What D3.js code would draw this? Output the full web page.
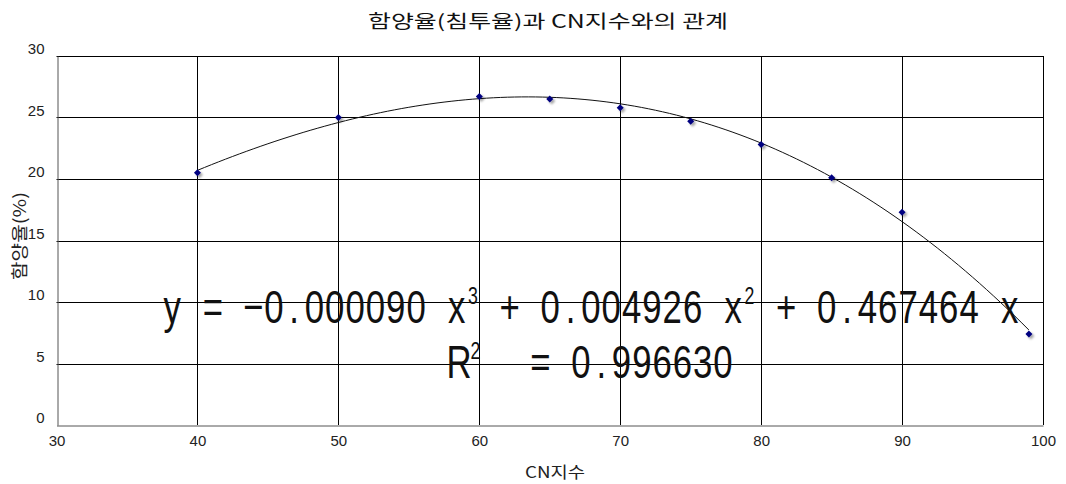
<!DOCTYPE html>
<html>
<head>
<meta charset="utf-8">
<script src="https://cdn.jsdelivr.net/npm/d3@7"></script>
<style>
  body { margin: 0; background: #fff; }
</style>
</head>
<body>
<div class="chart"></div>
<script>
// 데이터
var cnIndex = [40, 50, 60, 65, 70, 75, 80, 85, 90, 99]
var rate = [20.5, 25.0, 26.7, 26.5, 25.8, 24.7, 22.8, 20.1, 17.3, 7.4]
var xTicks = [30, 40, 50, 60, 70, 80, 90, 100]
var yTicks = [0, 5, 10, 15, 20, 25, 30]
var titleText = "함양율(침투율)과 CN지수와의 관계"
var xLabel = "CN지수"
var yLabel = "함양율(%)"
var eqParts = [["y = −0.000090 x"], ["3", "sup"], [" + 0.004926 x"], ["2", "sup"], [" + 0.467464 x"]]
var r2Parts = [["R"], ["2", "sup"], ["  = 0.996630"]]

var KR = "'Noto Sans CJK KR', sans-serif"
var NUM = "'Liberation Sans', 'DejaVu Sans', sans-serif"

var width = 1066, height = 484
var margin = {left: 56.5, right: 23, top: 56, bottom: 59}

var svg = d3.select(".chart").append("svg")
    .attr("width", width)
    .attr("height", height)

var x = d3.scaleLinear().domain([30, 100]).range([margin.left, width - margin.right])
var y = d3.scaleLinear().domain([0, 30]).range([height - margin.bottom, margin.top])

// 그림자 필터
var defs = svg.append("defs")
var f = defs.append("filter").attr("id", "shadow").attr("x", "-50%").attr("y", "-50%").attr("width", "250%").attr("height", "250%")
f.append("feDropShadow").attr("dx", 2).attr("dy", 2).attr("stdDeviation", 1.2).attr("flood-color", "#000").attr("flood-opacity", 0.35)

// 격자
var grid = svg.append("g").attr("class", "grid")
grid.selectAll("line.h").data(yTicks.slice(1)).enter().append("line")
    .attr("x1", x(30)).attr("x2", x(100))
    .attr("y1", function(d) { return Math.round(y(d)) + 0.5 })
    .attr("y2", function(d) { return Math.round(y(d)) + 0.5 })
    .attr("stroke", "#000").attr("stroke-width", 1)
grid.selectAll("line.v").data(xTicks.slice(1)).enter().append("line")
    .attr("y1", y(0)).attr("y2", y(30))
    .attr("x1", function(d) { return Math.round(x(d)) + 0.5 })
    .attr("x2", function(d) { return Math.round(x(d)) + 0.5 })
    .attr("stroke", "#000").attr("stroke-width", 1)

// 축
var xAxis = svg.append("g")
    .attr("transform", "translate(0," + (Math.round(y(0)) + 0.5) + ")")
    .call(d3.axisBottom(x).tickValues(xTicks).tickSize(0).tickPadding(10))
var yAxis = svg.append("g")
    .attr("transform", "translate(" + (Math.round(x(30)) + 0.5) + ",0)")
    .call(d3.axisLeft(y).tickValues(yTicks).tickSize(0).tickPadding(13))
svg.selectAll(".domain").attr("stroke", "#555")
svg.selectAll(".tick text")
    .style("font-family", NUM)
    .style("font-size", "15px")
    .attr("fill", "#222")
yAxis.selectAll(".tick text").attr("dy", "-0.15em")

// 추세선 (최소제곱 3차 다항식)
function polyfit(xs, ys, deg) {
  var n = deg + 1
  var A = [], b = []
  for (var i = 0; i < n; i++) {
    A.push([]); b.push(0)
    for (var j = 0; j < n; j++) {
      var s = 0
      xs.forEach(function(xv) { s += Math.pow(xv, i + j) })
      A[i].push(s)
    }
    xs.forEach(function(xv, k) { b[i] += ys[k] * Math.pow(xv, i) })
  }
  for (var c = 0; c < n; c++) {
    var p = c
    for (var r = c + 1; r < n; r++) if (Math.abs(A[r][c]) > Math.abs(A[p][c])) p = r
    var t = A[c]; A[c] = A[p]; A[p] = t
    var tb = b[c]; b[c] = b[p]; b[p] = tb
    for (var r2 = c + 1; r2 < n; r2++) {
      var m = A[r2][c] / A[c][c]
      for (var k2 = c; k2 < n; k2++) A[r2][k2] -= m * A[c][k2]
      b[r2] -= m * b[c]
    }
  }
  var coef = new Array(n).fill(0)
  for (var r3 = n - 1; r3 >= 0; r3--) {
    var s2 = b[r3]
    for (var k3 = r3 + 1; k3 < n; k3++) s2 -= A[r3][k3] * coef[k3]
    coef[r3] = s2 / A[r3][r3]
  }
  return coef
}
var coef = polyfit(cnIndex, rate, 3)
var trend = d3.range(cnIndex[0], cnIndex[cnIndex.length - 1] + 0.01, 0.5).map(function(v) {
  return [v, coef[0] + coef[1] * v + coef[2] * v * v + coef[3] * v * v * v]
})
svg.append("path")
    .datum(trend)
    .attr("fill", "none")
    .attr("stroke", "#111")
    .attr("stroke-width", 1)
    .attr("d", d3.line().x(function(d) { return x(d[0]) }).y(function(d) { return y(d[1]) }))

// 점
svg.append("g").selectAll("path")
    .data(cnIndex).enter().append("path")
    .attr("transform", function(d, i) { return "translate(" + x(d) + "," + y(rate[i]) + ")" })
    .attr("d", "M0,-3.5L3.5,0L0,3.5L-3.5,0Z")
    .attr("fill", "#000080")
    .attr("filter", "url(#shadow)")

// 수식 (굴림체처럼 고정폭으로 배치)
function monoText(parts, x0, base, cell, supAdv) {
  var sx = 0.74
  var txt = svg.append("text")
      .attr("transform", "scale(" + sx + ",1)")
      .attr("text-anchor", "middle")
      .attr("xml:space", "preserve")
      .style("font-family", NUM)
      .style("font-size", "47px")
      .attr("fill", "#111")
  var col = 0
  parts.forEach(function(p) {
    if (p[1] === "sup") {
      txt.append("tspan")
          .attr("x", (x0 + (col + 0.3) * cell) / sx)
          .attr("y", base - 19)
          .style("font-size", "24px")
          .text(p[0])
      col += supAdv
    } else {
      var xs = p[0].split("").map(function(ch, i) { return (x0 + (col + i + 0.5) * cell) / sx })
      txt.append("tspan")
          .attr("x", xs.join(" "))
          .attr("y", base)
          .text(p[0])
      col += p[0].length
    }
  })
  return txt
}
monoText(eqParts, 162, 323, 20.33, 0.6)
monoText(r2Parts, 449, 378, 20.3, 1.0)

// 제목, 축 제목
svg.append("text")
    .attr("x", 368).attr("y", 28)
    .style("font-family", KR)
    .style("font-size", "18px")
    .attr("fill", "#111")
    .attr("textLength", 360).attr("lengthAdjust", "spacingAndGlyphs")
    .text(titleText)
svg.append("text")
    .attr("x", 525).attr("y", 478)
    .style("font-family", KR)
    .style("font-size", "16px")
    .attr("fill", "#222")
    .attr("textLength", 60).attr("lengthAdjust", "spacingAndGlyphs")
    .text(xLabel)
svg.append("text")
    .attr("transform", "translate(26,280) rotate(-90)")
    .style("font-family", KR)
    .style("font-size", "17px")
    .attr("fill", "#222")
    .attr("textLength", 88).attr("lengthAdjust", "spacingAndGlyphs")
    .text(yLabel)
</script>
</body>
</html>
